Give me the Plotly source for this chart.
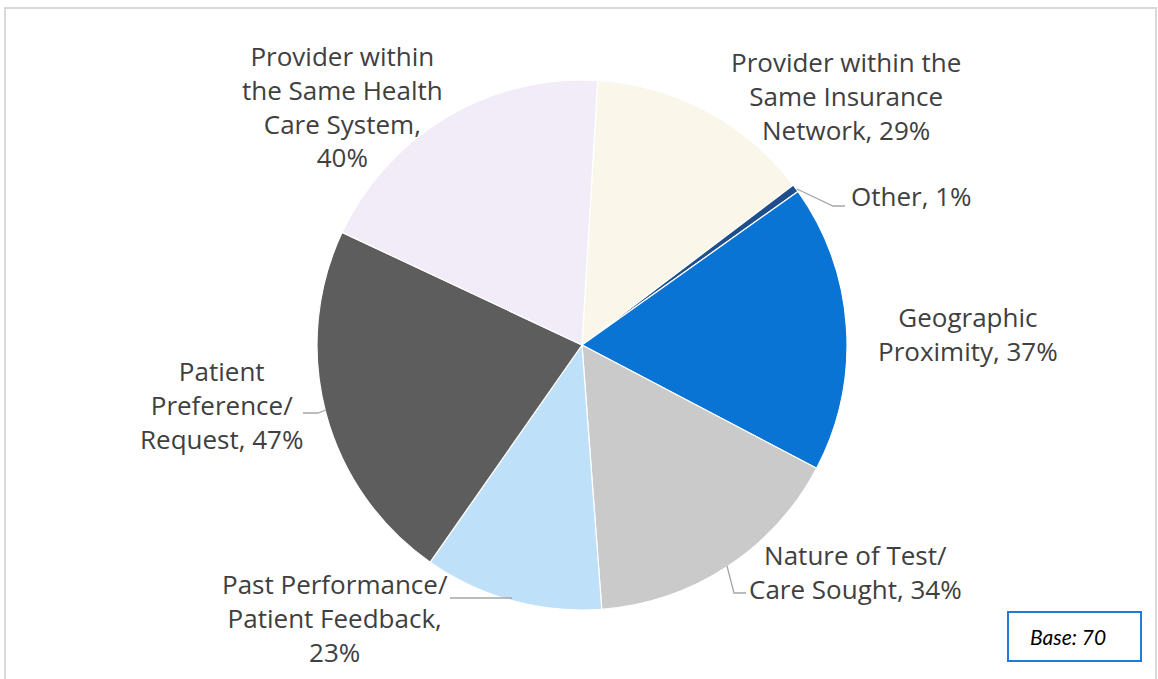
import plotly.graph_objects as go

W, H = 1158, 679

categories = [
    "Provider within the Same Insurance Network",
    "Other",
    "Geographic Proximity",
    "Nature of Test/ Care Sought",
    "Past Performance/ Patient Feedback",
    "Patient Preference/ Request",
    "Provider within the Same Health Care System",
]
values = [29, 1, 37, 34, 23, 47, 40]
label_texts = [
    "Provider within the<br>Same Insurance<br>Network, 29%",
    "Other, 1%",
    "Geographic<br>Proximity, 37%",
    "Nature of Test/<br>Care Sought, 34%",
    "Past Performance/<br>Patient Feedback,<br>23%",
    "Patient<br>Preference/<br>Request, 47%",
    "Provider within<br>the Same Health<br>Care System,<br>40%",
]
colors = ["#FAF7EA", "#1F4E8C", "#0A74D4", "#CACACA", "#BEE0F9", "#5D5D5D", "#F1ECF8"]

def px(x):
    return x / W

def py(y):
    return 1 - y / H

cx, cy, r = 582, 345, 265

fig = go.Figure()
fig.add_trace(go.Pie(
    labels=categories,
    values=values,
    sort=False,
    direction="clockwise",
    rotation=3.4,
    marker=dict(colors=colors, line=dict(color="#FFFFFF", width=1.2)),
    textinfo="none",
    hoverinfo="label+value",
    showlegend=False,
    domain=dict(x=[px(cx - r), px(cx + r)], y=[py(cy + r), py(cy - r)]),
))

font_lbl = dict(family="Open Sans, DejaVu Sans, sans-serif", size=26, color="#404040")
label_pos = [
    (846, 96, "center"),
    (849, 196, "left"),
    (968, 334, "center"),
    (855, 572, "center"),
    (335, 618, "center"),
    (222, 405, "center"),
    (342, 106, "center"),
]
annotations = []
for txt, (x, y, xa) in zip(label_texts, label_pos):
    annotations.append(dict(
        x=px(x), y=py(y), xref="paper", yref="paper", text=txt, showarrow=False,
        xanchor=xa, yanchor="middle", align="center", font=font_lbl,
    ))

annotations.append(dict(
    x=px(1068), y=py(636), xref="paper", yref="paper", text="<i>Base: 70</i>",
    showarrow=False, xanchor="center", yanchor="middle",
    font=dict(family="Lato, Open Sans, sans-serif", size=21, color="#000000"),
))

leaders = [
    [(797, 189), (833, 206), (845, 206)],
    [(303, 413), (318, 413), (326, 410)],
    [(450, 598), (512, 598)],
    [(727, 566), (734, 593), (746, 593)],
]
shapes = []
for pts in leaders:
    path = "M " + " L ".join(f"{px(x)},{py(y)}" for x, y in pts)
    shapes.append(dict(type="path", path=path, xref="paper", yref="paper",
                       line=dict(color="#A6A6A6", width=1.3)))

shapes.append(dict(type="rect", xref="paper", yref="paper",
                   x0=px(5), y0=py(700), x1=px(1156), y1=py(8),
                   line=dict(color="#D9D9D9", width=2), fillcolor="rgba(0,0,0,0)"))
shapes.append(dict(type="rect", xref="paper", yref="paper",
                   x0=px(1008), y0=py(661), x1=px(1141), y1=py(612),
                   line=dict(color="#1F7BD8", width=2), fillcolor="#FFFFFF"))

fig.update_layout(
    width=W, height=H,
    margin=dict(l=0, r=0, t=0, b=0),
    paper_bgcolor="#FFFFFF", plot_bgcolor="#FFFFFF",
    annotations=annotations, shapes=shapes,
)

fig.write_html("out.html", config={"displayModeBar": False},
               post_script="document.body.style.margin='0';document.body.style.overflow='hidden';")
